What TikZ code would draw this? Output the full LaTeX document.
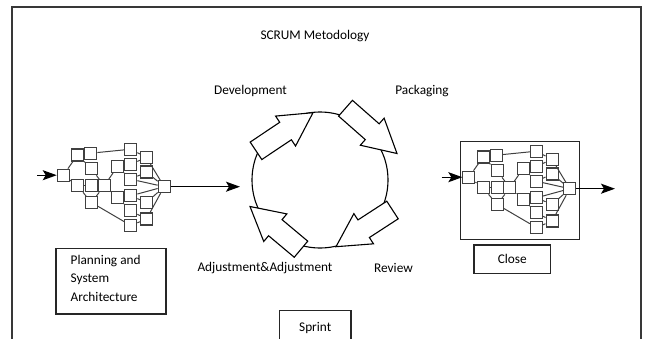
\documentclass[tikz,border=0pt]{standalone}
\usepackage{fontspec}
\setmainfont{Carlito}
\usetikzlibrary{calc,arrows.meta}

% block arrow from tail #1 to tip #2 (shaft half width 10.5pt, head half width 18pt, head length 33pt)
\newcommand\blockarr[2]{%
  \path ($(#2)!33pt!(#1)$) coordinate (ba-h);
  \draw[blockarrow]
    ($(#1)!10.5pt!90:(#2)$) -- ($(ba-h)!10.5pt!90:(#2)$) -- ($(ba-h)!18pt!90:(#2)$)
    -- (#2)
    -- ($(ba-h)!18pt!-90:(#2)$) -- ($(ba-h)!10.5pt!-90:(#2)$) -- ($(#1)!10.5pt!-90:(#2)$)
    -- cycle;
}

\tikzset{
  lbl/.style={font=\fontsize{13.3}{16}\selectfont, inner sep=0pt},
  labelbox/.style={draw=black!85, line width=1.2pt, font=\fontsize{13.3}{18.3}\selectfont, inner sep=0pt},
  netbox/.style={draw=black!75, line width=1.1pt, minimum size=12pt, inner sep=0pt},
  netline/.style={draw=black!75, line width=1.0pt},
  bigtip/.style={-{Stealth[length=14pt,width=10pt,inset=3pt]}, line width=1.3pt, black},
  blockarrow/.style={draw=black, fill=white, line width=1.1pt, line join=miter},
  frame/.style={draw=black!78, line width=1.6pt},
  net/.pic={
    \foreach \n/\x/\y in {
      e/63.3/175.2, a1/77.5/155, a2/77.5/185.8,
      b1/90.8/153.2, b2/91.5/168.8, b3/91.7/185.8, b4/91.5/202.5,
      j1/104.2/185.8,
      t1/130.8/149.2, c1/117.5/166.5, c2/117.5/197.5,
      d1/130.8/164.2, d2/130.8/179.2, d3/130.8/195.8, d4/130.8/210.8, t2/130.8/225.5,
      f1/146.5/157.5, f2/146.5/172, f3/146.5/202.5, f4/146.5/219,
      j2/164.2/186.7}
      \node[netbox] (-\n) at (\x,\y) {};
    \foreach \u/\v in {
      e/a1, e/a2, a1/b1, a1/b2, a2/b3, a2/b4,
      b1/t1, b4/t2, b2/j1, b3/j1, b4/j1,
      j1/c1, j1/c2, c1/d1, c1/d2, c2/d3, c2/d4,
      t1/f1, d1/f1, d2/f2, d3/f3, d4/f4, t2/f4,
      f1/j2, f2/j2, f3/j2, f4/j2, d2/j2, d3/j2}
      \draw[netline] (-\u) -- (-\v);
  }
}

\begin{document}
\begin{tikzpicture}[x=1pt, y=-1pt]
  \useasboundingbox (0,0) rectangle (646,338);

  % outer frame, open at the bottom
  \draw[frame] (12,345) -- (12,7) -- (641,7) -- (641,345);

  \node[lbl] (title) at (315,36) {SCRUM Metodology};

  % planning network on the left
  \pic (L) at (0,0) {net};
  \coordinate (lin) at (37,175.2);
  \draw[bigtip] (lin) -- (L-e);

  % sprint cycle
  \node[draw=black, line width=1.1pt, circle, minimum size=136pt, inner sep=0pt] (cyc) at (320,180) {};
  \coordinate (ctip) at (240,186.7);
  \draw[bigtip] (L-j2) -- (ctip);

  \coordinate (devT) at (256,150.8);  \coordinate (devP) at (313,112.7);
  \coordinate (pakT) at (345.5,108.2);  \coordinate (pakP) at (397,153.5);
  \coordinate (revT) at (392.5,210);    \coordinate (revP) at (336,246.7);
  \coordinate (adjT) at (301,249.2);    \coordinate (adjP) at (250,206.5);
  \blockarr{devT}{devP}
  \blockarr{pakT}{pakP}
  \blockarr{revT}{revP}
  \blockarr{adjT}{adjP}

  \node[lbl] (dev) at (250.5,91) {Development};
  \node[lbl] (pak) at (422,91) {Packaging};
  \node[lbl] (adj) at (265,268) {Adjustment\&Adjustment};
  \node[lbl] (rev) at (393.5,268) {Review};

  % closing network on the right
  \node[draw=black!85, line width=1.3pt, minimum width=118.6pt, minimum height=97.6pt, inner sep=0pt] (rframe) at (520,190.5) {};
  \pic (R) at (405.6,2) {net};
  \coordinate (rin) at (441.7,177.2);
  \coordinate (rout) at (615,188.7);
  \draw[bigtip] (rin) -- (R-e);
  \draw[bigtip] (R-j2) -- (rout);

  % captions
  \node[labelbox, minimum width=110pt, minimum height=65.7pt] (plan) at (111,281.2) {};
  \node[lbl, font=\fontsize{13.3}{18.3}\selectfont, align=left, anchor=north west] (plantext) at (70.5,255) {Planning and\\System\\Architecture};
  \node[labelbox, minimum width=76.7pt, minimum height=28.3pt] (close) at (512.3,259.2) {Close};
  \node[labelbox, minimum width=71.7pt, minimum height=34.6pt] (sprint) at (315.2,328) {Sprint};
\end{tikzpicture}
\end{document}
